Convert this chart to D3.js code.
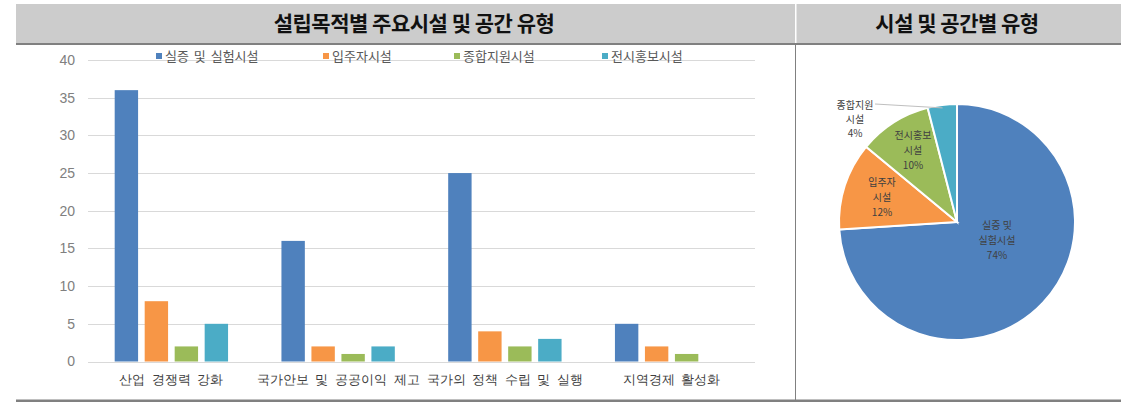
<!DOCTYPE html>
<html><head><meta charset="utf-8">
<script src="https://cdn.jsdelivr.net/npm/d3@7"></script>
<style>body{margin:0;background:#fff;} svg{display:block;font-family:"Noto Sans CJK KR","Noto Sans",sans-serif;}</style>
</head><body>
<svg id="c" width="1146" height="411"></svg>
<script>
const categories = ["산업 경쟁력 강화", "국가안보 및 공공이익 제고", "국가의 정책 수립 및 실행", "지역경제 활성화"];
const seriesNames = ["실증 및 실험시설", "입주자시설", "종합지원시설", "전시홍보시설"];
const seriesColors = ["#4f81bd", "#f79646", "#9bbb59", "#4bacc6"];
const s1 = [36, 16, 25, 5];
const s2 = [8, 2, 4, 2];
const s3 = [2, 1, 2, 1];
const s4 = [5, 2, 3, 0];
const yTicks = [0, 5, 10, 15, 20, 25, 30, 35, 40];
const pieLabels = [["실증 및", "실험시설"], ["입주자", "시설"], ["전시홍보", "시설"], ["종합지원", "시설"]];
const pieValues = [74, 12, 10, 4];
const pieColors = ["#4f81bd", "#f79646", "#9bbb59", "#4bacc6"];
const titles = ["설립목적별 주요시설 및 공간 유형", "시설 및 공간별 유형"];

const svg = d3.select("#c");
const seriesVals = [s1, s2, s3, s4];

// Header
svg.append("rect").attr("x", 16).attr("y", 4).attr("width", 1105).attr("height", 39).attr("fill", "#cccccc");
svg.append("rect").attr("x", 795).attr("y", 4).attr("width", 1.5).attr("height", 39).attr("fill", "#fff");
svg.append("rect").attr("x", 16).attr("y", 43).attr("width", 1105).attr("height", 2).attr("fill", "#808080");
svg.append("rect").attr("x", 16).attr("y", 399.5).attr("width", 1105).attr("height", 2.5).attr("fill", "#808080");
svg.append("rect").attr("x", 795).attr("y", 45).attr("width", 1).attr("height", 355).attr("fill", "#808080");
svg.append("text").attr("x", 414).attr("y", 31).attr("text-anchor", "middle").attr("font-size", 21).attr("font-weight", "bold").attr("fill", "#111").attr("letter-spacing", -0.5).text(titles[0]);
svg.append("text").attr("x", 957).attr("y", 31).attr("text-anchor", "middle").attr("font-size", 21).attr("font-weight", "bold").attr("fill", "#111").attr("letter-spacing", -0.5).text(titles[1]);

// Bar chart
const x0 = d3.scaleBand().domain(categories).range([88, 755]).padding(0);
const x1 = d3.scaleBand().domain(seriesNames).range([0, x0.bandwidth()]).paddingInner(0.22).paddingOuter(0.89);
const y = d3.scaleLinear().domain([0, 40]).range([361.5, 60]);

const g = svg.append("g");
g.selectAll("line.grid").data(yTicks).enter().append("line")
  .attr("x1", 88).attr("x2", 755).attr("y1", d => Math.round(y(d)) + 0.5).attr("y2", d => Math.round(y(d)) + 0.5)
  .attr("stroke", "#d9d9d9").attr("stroke-width", 1);

const yAxis = d3.axisLeft(y).tickValues(yTicks).tickSize(0).tickPadding(0);
const ya = g.append("g").attr("transform", "translate(75,0)").call(yAxis);
ya.select(".domain").remove();
ya.selectAll("text").attr("font-size", 14).attr("fill", "#808080").attr("font-family", "'Liberation Sans',Arial,sans-serif");

categories.forEach((c, ci) => {
  seriesNames.forEach((s, si) => {
    const v = seriesVals[si][ci];
    if (v <= 0) return;
    g.append("rect").attr("x", x0(c) + x1(s)).attr("width", x1.bandwidth())
      .attr("y", y(v)).attr("height", y(0) - y(v)).attr("fill", seriesColors[si]);
  });
});

const xAxis = d3.axisBottom(x0).tickSize(0).tickPadding(0);
const xa = g.append("g").attr("transform", "translate(0,384)").call(xAxis);
xa.select(".domain").remove();
xa.selectAll("text").attr("font-size", 13).attr("fill", "#404040").attr("dy", 0).attr("word-spacing", 3);

// Legend
const legX = [156, 323, 454, 602];
seriesNames.forEach((s, i) => {
  g.append("rect").attr("x", legX[i]).attr("y", 53).attr("width", 6).attr("height", 6).attr("fill", seriesColors[i]);
  g.append("text").attr("x", legX[i] + 9).attr("y", 61).attr("font-size", 13).attr("fill", "#595959").attr("word-spacing", 2).text(s);
});

// Pie
const cx = 957, cy = 222, r = 118;
const pie = d3.pie().sort(null).value(d => d)(pieValues);
const arc = d3.arc().innerRadius(0).outerRadius(r);
const pg = svg.append("g").attr("transform", `translate(${cx},${cy})`);
pg.selectAll("path").data(pie).enter().append("path").attr("d", arc)
  .attr("fill", (d, i) => pieColors[i]).attr("stroke", "#fff").attr("stroke-width", 2);

const labelPos = [[40, 7], [-75, -36], [-44, -83]];
pie.forEach((d, i) => {
  if (i < 3) {
    const lp = labelPos[i];
    const t = pg.append("text").attr("text-anchor", "middle").attr("font-size", 10).attr("fill", "#404040");
    const lines = pieLabels[i].concat([d.data + "%"]);
    lines.forEach((l, li) => t.append("tspan").attr("x", lp[0]).attr("y", lp[1] + li * 15).text(l));
  } else {
    const mid = (d.startAngle + d.endAngle) / 2;
    const ex = Math.sin(mid) * (r - 3), ey = -Math.cos(mid) * (r - 3);
    pg.append("line").attr("x1", -82).attr("y1", -118).attr("x2", ex).attr("y2", ey).attr("stroke", "#bfbfbf").attr("stroke-width", 1);
    const t = pg.append("text").attr("text-anchor", "middle").attr("font-size", 10).attr("fill", "#404040");
    const lines = pieLabels[i].concat([d.data + "%"]);
    lines.forEach((l, li) => t.append("tspan").attr("x", -102).attr("y", -113 + li * 14).text(l));
  }
});
</script>
</body></html>
